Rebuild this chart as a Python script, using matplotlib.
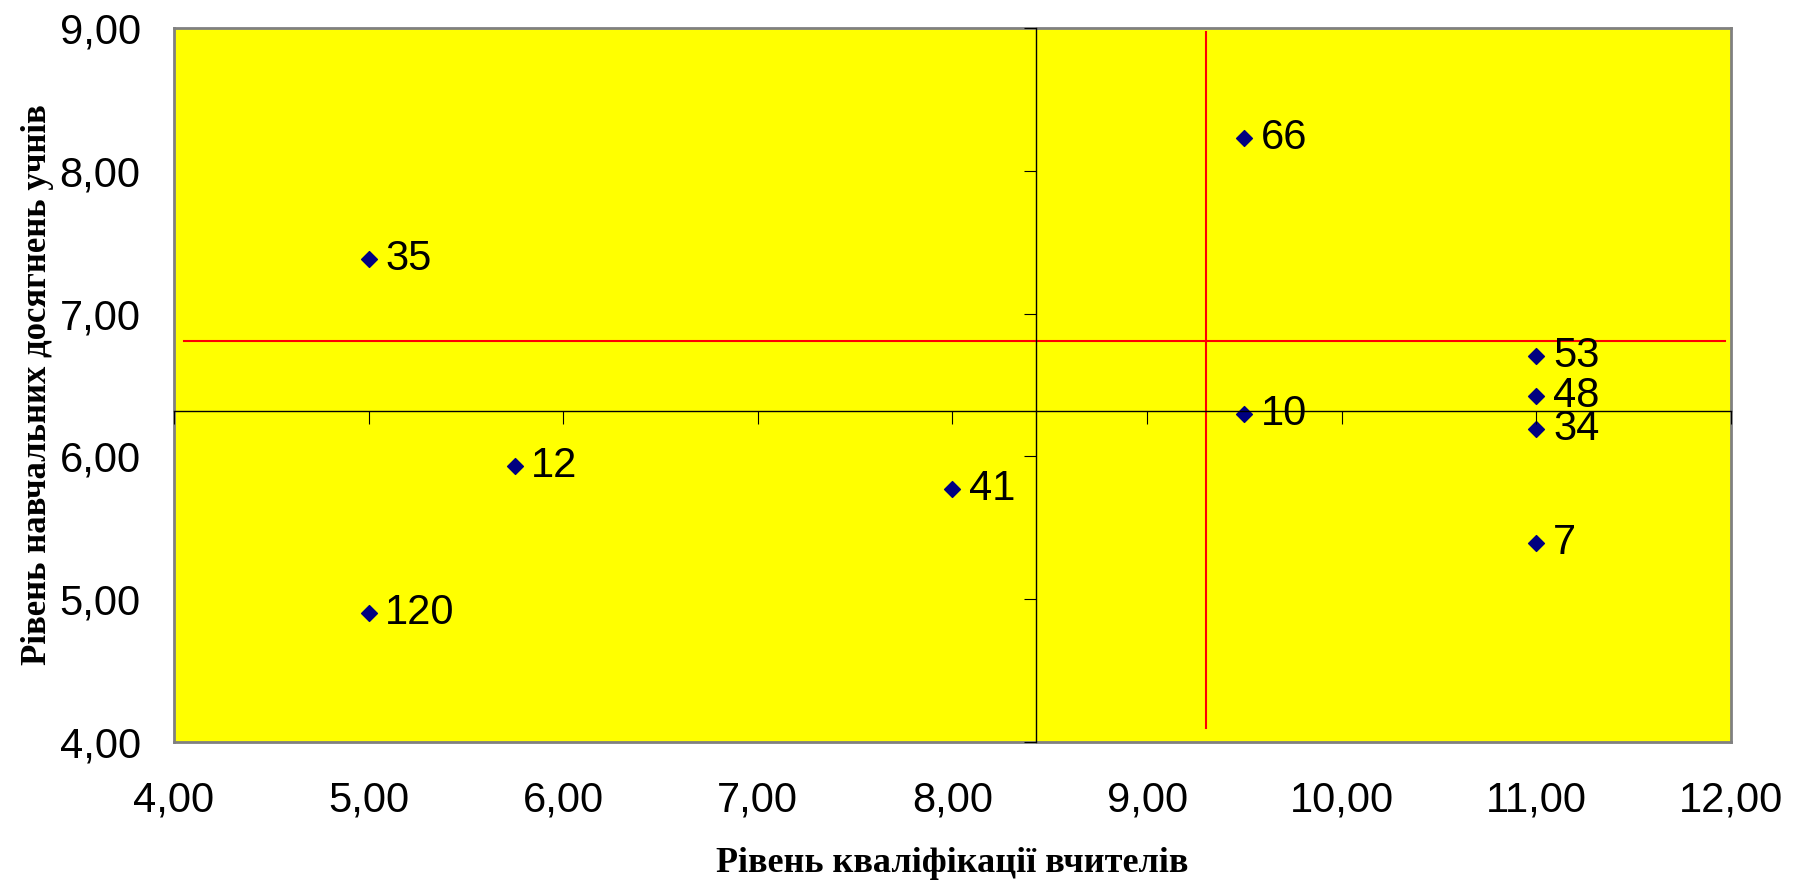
import numpy as np
import matplotlib
matplotlib.use("Agg")
import matplotlib.pyplot as plt
from matplotlib.ticker import FuncFormatter

# school data: teacher qualification (x) vs student achievement (y)
school_ids = ['35', '66', '10', '53', '48', '34', '7', '12', '41', '120']
qualification = [5.00, 9.50, 9.50, 11.00, 11.00, 11.00, 11.00, 5.75, 8.00, 5.00]
achievement = [7.38, 8.23, 6.30, 6.70, 6.42, 6.19, 5.39, 5.93, 5.77, 4.90]

# where the axes cross and the red reference lines
cross_x = 8.43
cross_y = 6.32
red_v_x = [9.30, 9.30]
red_v_y = [4.10, 8.97]
red_h_x = [4.05, 11.97]
red_h_y = [6.81, 6.81]

x_ticks = np.arange(4, 13, 1)
y_ticks = np.arange(4, 10, 1)

fig = plt.figure(figsize=(18.05, 8.83), dpi=100)
rect = [0.0964, 0.1597, 0.8626, 0.8086]
ax = fig.add_axes(rect)
ax.set_facecolor('#FFFF00')
ax.set_xlim(4, 12)
ax.set_ylim(4, 9)

comma = FuncFormatter(lambda v, p: '{:.2f}'.format(v).replace('.', ','))
ax.set_xticks(x_ticks)
ax.set_yticks(y_ticks)
ax.xaxis.set_major_formatter(comma)
ax.yaxis.set_major_formatter(comma)
ax.tick_params(axis='both', length=0, labelsize=30)
ax.tick_params(axis='x', pad=28)
ax.tick_params(axis='y', pad=24)
for lbl in ax.get_xticklabels() + ax.get_yticklabels():
    lbl.set_family('Liberation Sans')
for s in ax.spines.values():
    s.set_color('#808080')
    s.set_linewidth(2)

# red reference lines
ax.plot(red_v_x, red_v_y, color='#FF0000', lw=1.5, zorder=2)
ax.plot(red_h_x, red_h_y, color='#FF0000', lw=1.5, zorder=2)

# points and their labels
ax.scatter(qualification, achievement, marker='D', s=65, color='#000080', zorder=4)
for x, y, t in zip(qualification, achievement, school_ids):
    ax.annotate(t, (x, y), xytext=(12, 0), textcoords='offset points',
                va='center', ha='left', fontsize=30, family='Liberation Sans', zorder=5)

ax.set_xlabel('Рівень кваліфікації вчителів', fontsize=26, fontweight='bold',
              family='Liberation Serif', labelpad=19)
ax.set_ylabel('Рівень навчальних досягнень учнів', fontsize=25, fontweight='bold',
              family='Liberation Serif', labelpad=4)

# crossing axes drawn on an overlay
ax2 = fig.add_axes(rect)
ax2.patch.set_alpha(0)
ax2.set_xlim(4, 12)
ax2.set_ylim(4, 9)
ax2.spines['top'].set_visible(False)
ax2.spines['right'].set_visible(False)
ax2.spines['left'].set_position(('data', cross_x))
ax2.spines['bottom'].set_position(('data', cross_y))
ax2.spines['left'].set_linewidth(1)
ax2.spines['bottom'].set_linewidth(1)
ax2.set_xticks(x_ticks)
ax2.set_yticks(y_ticks)
ax2.tick_params(direction='out', length=9, width=0.8, labelbottom=False, labelleft=False)

fig.savefig('out.png', dpi=100)
